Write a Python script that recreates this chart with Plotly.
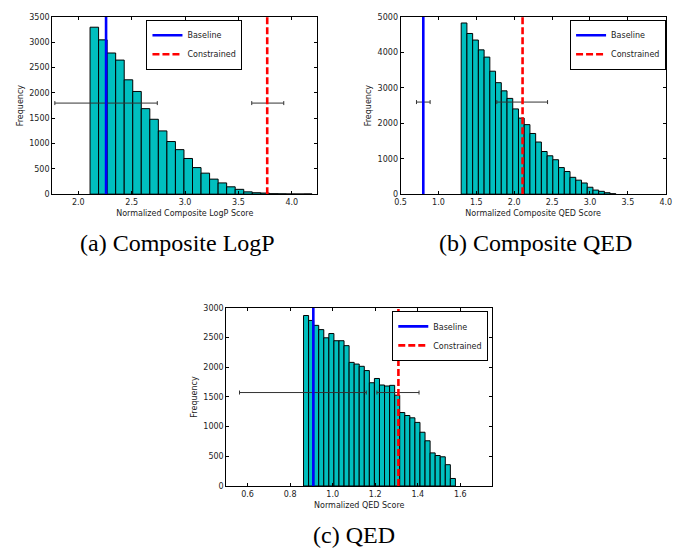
import numpy as np
import plotly.graph_objects as go

# ---------------- data ----------------
# (a) Composite LogP histogram
logp_bin_start = 2.11
logp_bin_width = 0.08
logp_counts = [3300, 3050, 2790, 2650, 2260, 2030, 1690, 1480, 1250, 1040, 880, 705,
               525, 415, 297, 222, 145, 95, 45, 28, 22, 9, 6, 4, 3, 5]
logp_baseline = 2.26
logp_constrained = 3.77
logp_err_centers = [2.26, 3.775]
logp_err_half = [0.48, 0.15]
logp_err_y = 1800

# (b) Composite QED histogram
cqed_bin_start = 1.30
cqed_bin_width = 0.0756
cqed_counts = [4833, 4537, 4352, 4074, 3870, 3472, 3148, 2917, 2704, 2407, 2148, 1963,
               1713, 1472, 1204, 1083, 972, 750, 640, 475, 395, 315, 195, 115, 80, 40, 12]
cqed_baseline = 0.80
cqed_constrained = 2.11
cqed_err_centers = [0.80, 2.105]
cqed_err_half = [0.09, 0.335]
cqed_err_y = 2600

# (c) QED histogram
qed_bin_start = 0.863
qed_bin_width = 0.0238
qed_counts = [2873, 2790, 2707, 2635, 2497, 2569, 2448, 2448, 2365, 2083, 2055, 2017,
              1945, 1740, 1812, 1702, 1685, 1696, 1530, 1238, 1188, 1149, 1072, 906,
              762, 558, 514, 492, 359, 127]
qed_baseline = 0.909
qed_constrained = 1.309
qed_err_centers = [0.86, 1.307]
qed_err_half = [0.298, 0.099]
qed_err_y = 1575

captions = ["(a) Composite LogP", "(b) Composite QED", "(c) QED"]
xlabels = ["Normalized Composite LogP Score", "Normalized Composite QED Score", "Normalized QED Score"]

W, H = 676, 552

def px_x(p):
    return p / W

def px_y(p):
    return 1 - p / H

panels = [
    dict(counts=logp_counts, start=logp_bin_start, width=logp_bin_width,
         base=logp_baseline, cons=logp_constrained, ec=logp_err_centers, eh=logp_err_half, ey=logp_err_y,
         xrange=[1.755, 4.24], xticks=[2.0, 2.5, 3.0, 3.5, 4.0], yrange=[0, 3500], dy=500,
         dom_x=[47, 317], dom_y=[13.3, 193.3], legend="legend"),
    dict(counts=cqed_counts, start=cqed_bin_start, width=cqed_bin_width,
         base=cqed_baseline, cons=cqed_constrained, ec=cqed_err_centers, eh=cqed_err_half, ey=cqed_err_y,
         xrange=[0.5, 4.0], xticks=[0.5, 1.0, 1.5, 2.0, 2.5, 3.0, 3.5, 4.0], yrange=[0, 5000], dy=1000,
         dom_x=[401.7, 671.7], dom_y=[13.3, 193.3], legend="legend2"),
    dict(counts=qed_counts, start=qed_bin_start, width=qed_bin_width,
         base=qed_baseline, cons=qed_constrained, ec=qed_err_centers, eh=qed_err_half, ey=qed_err_y,
         xrange=[0.5, 1.75], xticks=[0.6, 0.8, 1.0, 1.2, 1.4, 1.6], yrange=[0, 3000], dy=500,
         dom_x=[224.3, 495], dom_y=[309, 490], legend="legend3"),
]

fig = go.Figure()
layout = dict(width=W, height=H, autosize=False, margin=dict(l=0, r=0, t=0, b=0),
              paper_bgcolor="white", plot_bgcolor="white", showlegend=True,
              font=dict(family="DejaVu Sans", size=8, color="#222"))

for i, p in enumerate(panels):
    sfx = "" if i == 0 else str(i + 1)
    xa, ya = "x" + sfx, "y" + sfx
    lefts = p["start"] + p["width"] * np.arange(len(p["counts"]))
    fig.add_trace(go.Bar(x=lefts, y=p["counts"], width=p["width"], offset=0,
                         marker=dict(color="#00BFBF", line=dict(color="black", width=1)),
                         showlegend=False, xaxis=xa, yaxis=ya, hoverinfo="skip"))
    fig.add_trace(go.Scatter(x=p["ec"], y=[p["ey"]] * len(p["ec"]), mode="markers",
                             marker=dict(size=1, color="rgba(0,0,0,0)"),
                             error_x=dict(type="data", array=p["eh"], color="#333", thickness=1, width=2),
                             showlegend=False, xaxis=xa, yaxis=ya, hoverinfo="skip"))
    fig.add_trace(go.Scatter(x=[p["base"], p["base"]], y=p["yrange"], mode="lines",
                             line=dict(color="#0000FF", width=2.6), name="Baseline",
                             legend=p["legend"], xaxis=xa, yaxis=ya))
    fig.add_trace(go.Scatter(x=[p["cons"], p["cons"]], y=p["yrange"], mode="lines",
                             line=dict(color="#FF0000", width=2.6, dash="7px,3px"), name="Constrained",
                             legend=p["legend"], xaxis=xa, yaxis=ya))

    axis_common = dict(showline=True, linecolor="black", linewidth=1, mirror="ticks",
                       ticks="inside", ticklen=3, tickcolor="black", showgrid=False, zeroline=False,
                       tickfont=dict(size=8, color="#222"), ticklabeloverflow="allow")
    layout["xaxis" + sfx] = dict(axis_common, domain=[px_x(p["dom_x"][0]), px_x(p["dom_x"][1])],
                                 range=p["xrange"], tickvals=p["xticks"], tickformat=".1f",
                                 anchor=ya,
                                 title=dict(text=xlabels[i], font=dict(size=8, color="#222"), standoff=4))
    layout["yaxis" + sfx] = dict(axis_common, domain=[px_y(p["dom_y"][1]), px_y(p["dom_y"][0])],
                                 range=p["yrange"], dtick=p["dy"], anchor=xa,
                                 title=dict(text="Frequency", font=dict(size=8, color="#222"), standoff=4))

leg_common = dict(bgcolor="white", bordercolor="black", borderwidth=1,
                  font=dict(size=8, color="#222"), itemwidth=30, tracegroupgap=0)
layout["legend"] = dict(leg_common, x=px_x(143), y=px_y(16), xanchor="left", yanchor="top")
layout["legend2"] = dict(leg_common, x=px_x(672), y=px_y(16), xanchor="right", yanchor="top")
layout["legend3"] = dict(leg_common, x=px_x(491), y=px_y(312), xanchor="right", yanchor="top")

cap_pos = [(175, 243), (539, 243), (354, 540)]
layout["annotations"] = [dict(text=c, x=px_x(cx), y=px_y(cy), xref="paper", yref="paper",
                              showarrow=False, xanchor="center", yanchor="middle",
                              font=dict(family="Liberation Serif", size=24, color="black"))
                         for c, (cx, cy) in zip(captions, cap_pos)]

fig.update_layout(**layout)
fig.write_html("out.html", config={"displayModeBar": False},
               post_script="document.body.style.margin='0px';document.body.style.overflow='hidden';")
